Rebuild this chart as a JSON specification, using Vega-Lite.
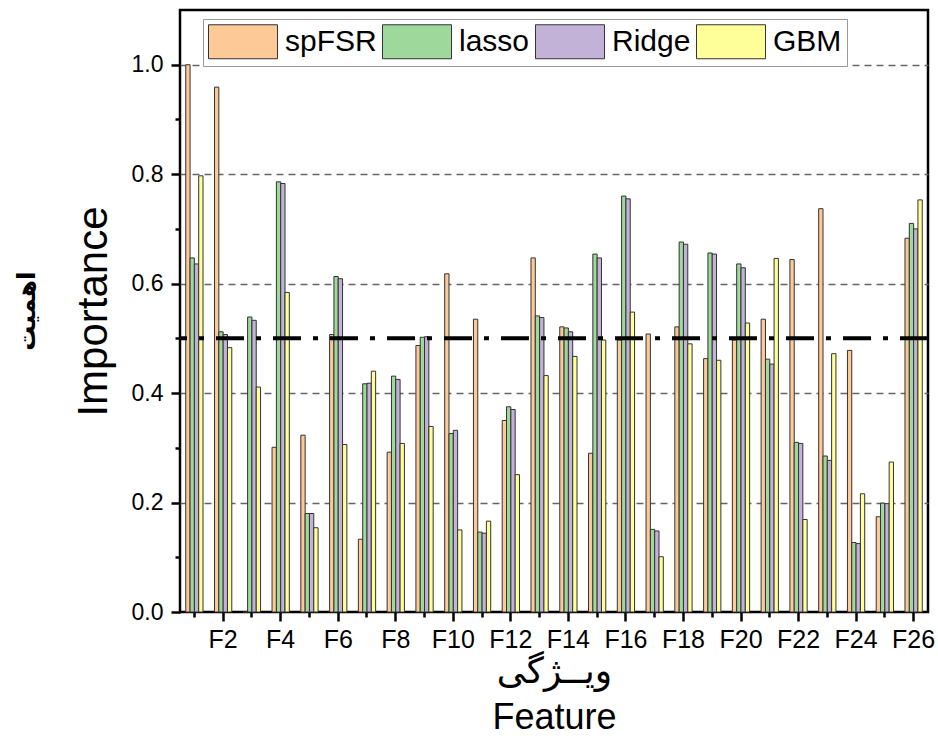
{
  "$schema": "https://vega.github.io/schema/vega-lite/v6.json",
  "width": 748,
  "height": 602,
  "autosize": "none",
  "padding": {"left": 180, "top": 10, "right": 10, "bottom": 137},
  "background": "white",
  "config": {
    "view": {"stroke": "#000000", "strokeWidth": 2.5},
    "font": "Liberation Sans"
  },
  "title": {
    "text": "اهمیت",
    "orient": "left",
    "anchor": "middle",
    "font": "DejaVu Sans",
    "fontSize": 25,
    "fontWeight": "bold",
    "color": "#000000",
    "offset": 32
  },
  "layer": [
    {
      "data": {
        "values": [
          {"f": "F1", "m": "spFSR", "v": 1.0}, {"f": "F1", "m": "lasso", "v": 0.647}, {"f": "F1", "m": "Ridge", "v": 0.636}, {"f": "F1", "m": "GBM", "v": 0.797},
          {"f": "F2", "m": "spFSR", "v": 0.959}, {"f": "F2", "m": "lasso", "v": 0.512}, {"f": "F2", "m": "Ridge", "v": 0.507}, {"f": "F2", "m": "GBM", "v": 0.483},
          {"f": "F3", "m": "spFSR", "v": 0.0}, {"f": "F3", "m": "lasso", "v": 0.539}, {"f": "F3", "m": "Ridge", "v": 0.533}, {"f": "F3", "m": "GBM", "v": 0.411},
          {"f": "F4", "m": "spFSR", "v": 0.301}, {"f": "F4", "m": "lasso", "v": 0.786}, {"f": "F4", "m": "Ridge", "v": 0.783}, {"f": "F4", "m": "GBM", "v": 0.584},
          {"f": "F5", "m": "spFSR", "v": 0.323}, {"f": "F5", "m": "lasso", "v": 0.180}, {"f": "F5", "m": "Ridge", "v": 0.180}, {"f": "F5", "m": "GBM", "v": 0.154},
          {"f": "F6", "m": "spFSR", "v": 0.507}, {"f": "F6", "m": "lasso", "v": 0.613}, {"f": "F6", "m": "Ridge", "v": 0.609}, {"f": "F6", "m": "GBM", "v": 0.306},
          {"f": "F7", "m": "spFSR", "v": 0.133}, {"f": "F7", "m": "lasso", "v": 0.417}, {"f": "F7", "m": "Ridge", "v": 0.418}, {"f": "F7", "m": "GBM", "v": 0.440},
          {"f": "F8", "m": "spFSR", "v": 0.292}, {"f": "F8", "m": "lasso", "v": 0.431}, {"f": "F8", "m": "Ridge", "v": 0.425}, {"f": "F8", "m": "GBM", "v": 0.308},
          {"f": "F9", "m": "spFSR", "v": 0.487}, {"f": "F9", "m": "lasso", "v": 0.502}, {"f": "F9", "m": "Ridge", "v": 0.503}, {"f": "F9", "m": "GBM", "v": 0.339},
          {"f": "F10", "m": "spFSR", "v": 0.618}, {"f": "F10", "m": "lasso", "v": 0.326}, {"f": "F10", "m": "Ridge", "v": 0.332}, {"f": "F10", "m": "GBM", "v": 0.150},
          {"f": "F11", "m": "spFSR", "v": 0.535}, {"f": "F11", "m": "lasso", "v": 0.146}, {"f": "F11", "m": "Ridge", "v": 0.144}, {"f": "F11", "m": "GBM", "v": 0.166},
          {"f": "F12", "m": "spFSR", "v": 0.350}, {"f": "F12", "m": "lasso", "v": 0.375}, {"f": "F12", "m": "Ridge", "v": 0.370}, {"f": "F12", "m": "GBM", "v": 0.251},
          {"f": "F13", "m": "spFSR", "v": 0.647}, {"f": "F13", "m": "lasso", "v": 0.541}, {"f": "F13", "m": "Ridge", "v": 0.538}, {"f": "F13", "m": "GBM", "v": 0.432},
          {"f": "F14", "m": "spFSR", "v": 0.521}, {"f": "F14", "m": "lasso", "v": 0.519}, {"f": "F14", "m": "Ridge", "v": 0.512}, {"f": "F14", "m": "GBM", "v": 0.467},
          {"f": "F15", "m": "spFSR", "v": 0.290}, {"f": "F15", "m": "lasso", "v": 0.654}, {"f": "F15", "m": "Ridge", "v": 0.647}, {"f": "F15", "m": "GBM", "v": 0.497},
          {"f": "F16", "m": "spFSR", "v": 0.497}, {"f": "F16", "m": "lasso", "v": 0.760}, {"f": "F16", "m": "Ridge", "v": 0.755}, {"f": "F16", "m": "GBM", "v": 0.548},
          {"f": "F17", "m": "spFSR", "v": 0.508}, {"f": "F17", "m": "lasso", "v": 0.151}, {"f": "F17", "m": "Ridge", "v": 0.148}, {"f": "F17", "m": "GBM", "v": 0.101},
          {"f": "F18", "m": "spFSR", "v": 0.521}, {"f": "F18", "m": "lasso", "v": 0.676}, {"f": "F18", "m": "Ridge", "v": 0.672}, {"f": "F18", "m": "GBM", "v": 0.490},
          {"f": "F19", "m": "spFSR", "v": 0.463}, {"f": "F19", "m": "lasso", "v": 0.656}, {"f": "F19", "m": "Ridge", "v": 0.654}, {"f": "F19", "m": "GBM", "v": 0.460},
          {"f": "F20", "m": "spFSR", "v": 0.497}, {"f": "F20", "m": "lasso", "v": 0.636}, {"f": "F20", "m": "Ridge", "v": 0.629}, {"f": "F20", "m": "GBM", "v": 0.528},
          {"f": "F21", "m": "spFSR", "v": 0.535}, {"f": "F21", "m": "lasso", "v": 0.462}, {"f": "F21", "m": "Ridge", "v": 0.453}, {"f": "F21", "m": "GBM", "v": 0.646},
          {"f": "F22", "m": "spFSR", "v": 0.644}, {"f": "F22", "m": "lasso", "v": 0.310}, {"f": "F22", "m": "Ridge", "v": 0.308}, {"f": "F22", "m": "GBM", "v": 0.169},
          {"f": "F23", "m": "spFSR", "v": 0.737}, {"f": "F23", "m": "lasso", "v": 0.285}, {"f": "F23", "m": "Ridge", "v": 0.277}, {"f": "F23", "m": "GBM", "v": 0.472},
          {"f": "F24", "m": "spFSR", "v": 0.478}, {"f": "F24", "m": "lasso", "v": 0.127}, {"f": "F24", "m": "Ridge", "v": 0.125}, {"f": "F24", "m": "GBM", "v": 0.216},
          {"f": "F25", "m": "spFSR", "v": 0.174}, {"f": "F25", "m": "lasso", "v": 0.199}, {"f": "F25", "m": "Ridge", "v": 0.198}, {"f": "F25", "m": "GBM", "v": 0.274},
          {"f": "F26", "m": "spFSR", "v": 0.683}, {"f": "F26", "m": "lasso", "v": 0.710}, {"f": "F26", "m": "Ridge", "v": 0.700}, {"f": "F26", "m": "GBM", "v": 0.753}
        ]
      },
      "mark": {"type": "bar", "stroke": "#333333", "strokeWidth": 1},
      "encoding": {
        "x": {
          "field": "f",
          "type": "nominal",
          "sort": null,
          "scale": {"paddingInner": 0.4, "paddingOuter": 0.2},
          "axis": {
            "title": ["ویــژگی", "Feature"],
            "titleFont": "Liberation Sans, DejaVu Sans",
            "titleFontWeight": "normal",
            "titleFontSize": 36,
            "titleLineHeight": 46,
            "titleColor": "#000000",
            "titlePadding": 2,
            "labelExpr": "toNumber(slice(datum.value,1)) % 2 == 0 ? datum.value : ''",
            "labelAngle": 0,
            "labelFont": "Liberation Sans",
            "labelFontSize": 25,
            "labelColor": "#000000",
            "labelPadding": 6,
            "ticks": true,
            "tickSize": {"condition": {"test": "toNumber(slice(datum.value,1)) % 2 == 1", "value": 5}, "value": 9},
            "tickColor": "black",
            "tickWidth": 2.5,
            "tickOpacity": 1,
            "domain": false,
            "grid": false
          }
        },
        "xOffset": {"field": "m", "type": "nominal", "scale": {"domain": ["spFSR", "lasso", "Ridge", "GBM"]}},
        "y": {
          "field": "v",
          "type": "quantitative",
          "scale": {"domain": [0, 1.1], "nice": false},
          "axis": {
            "title": "Importance",
            "titleFontSize": 42,
            "titleFontWeight": "normal",
            "titleColor": "#000000",
            "titlePadding": 16,
            "values": [0, 0.1, 0.2, 0.3, 0.4, 0.5, 0.6, 0.7, 0.8, 0.9, 1.0],
            "labelExpr": "round(datum.value*10) % 2 == 0 ? format(datum.value, '.1f') : ''",
            "labelFontSize": 23,
            "labelColor": "#000000",
            "labelPadding": 8,
            "ticks": true,
            "tickSize": {"condition": {"test": "round(datum.value*10) % 2 == 1", "value": 5}, "value": 9},
            "tickColor": "black",
            "tickWidth": 2.5,
            "tickOpacity": 1,
            "domain": false,
            "grid": true,
            "gridColor": "#666666",
            "gridDash": [7, 5],
            "gridWidth": 1.3,
            "gridOpacity": {"condition": {"test": "round(datum.value*10) % 2 == 0 && datum.value > 0.05", "value": 1}, "value": 0}
          }
        },
        "color": {
          "field": "m",
          "type": "nominal",
          "scale": {"domain": ["spFSR", "lasso", "Ridge", "GBM"], "range": ["#FDC997", "#9ED89B", "#C2B2D8", "#FFFF99"]},
          "legend": {
            "orient": "none",
            "legendX": 23,
            "legendY": 9,
            "direction": "horizontal",
            "title": null,
            "symbolType": "M-1,-1H3.06V1H-1Z",
            "symbolSize": 1156,
            "symbolStrokeColor": "#333333",
            "symbolStrokeWidth": 1,
            "symbolOpacity": 1,
            "labelFontSize": 30,
            "labelColor": "#000000",
            "labelOffset": 42,
            "labelLimit": 0,
            "columnPadding": 3,
            "padding": 5,
            "strokeColor": "#999999",
            "fillColor": "white"
          }
        }
      }
    },
    {
      "data": {"values": [{"threshold": 0.5}]},
      "mark": {"type": "rule", "strokeDash": [28, 12, 5, 12], "strokeWidth": 4, "color": "#000000"},
      "encoding": {
        "y": {"field": "threshold", "type": "quantitative", "title": "Importance"}
      }
    }
  ]
}
